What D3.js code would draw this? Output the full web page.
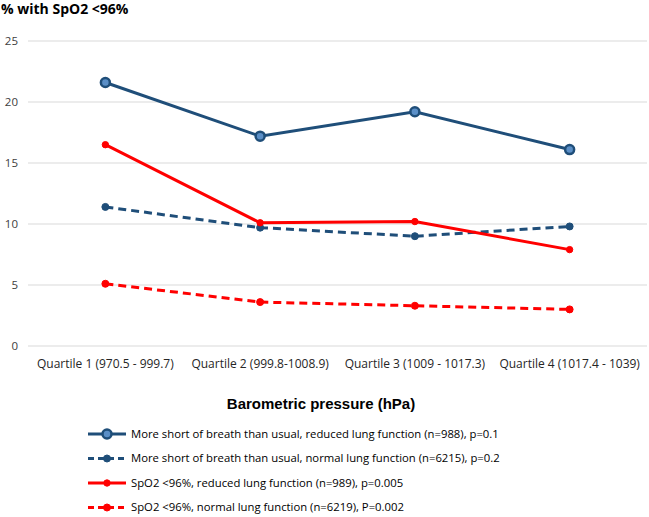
<!DOCTYPE html>
<html><head><meta charset="utf-8">
<script src="https://cdn.jsdelivr.net/npm/d3@7"></script>
<style>body{margin:0;background:#fff;} svg{display:block;}</style>
</head><body>
<svg id="c" width="649" height="517"></svg>
<script>
const categories = ["Quartile 1 (970.5 - 999.7)", "Quartile 2 (999.8-1008.9)", "Quartile 3 (1009 - 1017.3)", "Quartile 4 (1017.4 - 1039)"];
const sobReduced = [21.6, 17.2, 19.2, 16.1];
const sobNormal = [11.4, 9.7, 9.0, 9.8];
const spo2Reduced = [16.5, 10.1, 10.2, 7.9];
const spo2Normal = [5.1, 3.6, 3.3, 3.0];
const yTicks = [0, 5, 10, 15, 20, 25];
const seriesNames = [
  "More short of breath than usual, reduced lung function (n=988), p=0.1",
  "More short of breath than usual, normal lung function (n=6215), p=0.2",
  "SpO2 <96%, reduced lung function (n=989), p=0.005",
  "SpO2 <96%, normal lung function (n=6219), P=0.002"
];
const series = [
  {name: seriesNames[0], values: sobReduced, color: "#1f4e79", dash: null, hollow: true, r: 4.5},
  {name: seriesNames[1], values: sobNormal, color: "#1f4e79", dash: "8,5", hollow: false, r: 3.5},
  {name: seriesNames[2], values: spo2Reduced, color: "#ff0000", dash: null, hollow: false, r: 3.2},
  {name: seriesNames[3], values: spo2Normal, color: "#ff0000", dash: "8,5", hollow: false, r: 3.5}
];

const svg = d3.select("#c");
const x = d3.scaleBand().domain(categories).range([28, 647]);
const y = d3.scaleLinear().domain([0, 25]).range([346, 41]);
const font = "'Open Sans', 'Liberation Sans', sans-serif";

// gridlines
svg.append("g").selectAll("line").data(yTicks).join("line")
  .attr("x1", 28).attr("x2", 647)
  .attr("y1", d => y(d)).attr("y2", d => y(d))
  .attr("stroke", "#d9d9d9").attr("stroke-width", 1);

// y axis labels
const yAxis = svg.append("g").attr("transform", "translate(18,0)")
  .call(d3.axisLeft(y).tickValues(yTicks).tickSize(0).tickPadding(0));
yAxis.select(".domain").remove();
yAxis.selectAll("text").attr("font-family", font).attr("font-size", 11.5).attr("fill", "#404040");

// x axis labels
const xAxis = svg.append("g").attr("transform", "translate(0,364)")
  .call(d3.axisBottom(x).tickSize(0).tickPadding(0));
xAxis.select(".domain").remove();
xAxis.selectAll("text").attr("font-family", font).attr("font-size", 12).attr("fill", "#262626").attr("dy", "0.35em");

// lines
const line = d3.line().x((d, i) => x(categories[i]) + x.bandwidth() / 2).y(d => y(d));
series.forEach(s => {
  svg.append("path").datum(s.values)
    .attr("d", line).attr("fill", "none")
    .attr("stroke", s.color).attr("stroke-width", 3)
    .attr("stroke-dasharray", s.dash);
  svg.append("g").selectAll("circle").data(s.values).join("circle")
    .attr("cx", (d, i) => x(categories[i]) + x.bandwidth() / 2)
    .attr("cy", d => y(d))
    .attr("r", s.r)
    .attr("fill", s.hollow ? "#5b8fc7" : s.color)
    .attr("stroke", s.color).attr("stroke-width", s.hollow ? 2.5 : 1);
});

// title
svg.append("text").attr("x", 1).attr("y", 14)
  .attr("font-family", font).attr("font-weight", "bold").attr("font-size", 14)
  .attr("fill", "#000").text("% with SpO2 <96%");

// axis title
svg.append("text").attr("x", 321).attr("y", 409).attr("text-anchor", "middle")
  .attr("font-family", "'Liberation Sans', Arial, sans-serif").attr("font-weight", "bold").attr("font-size", 15)
  .attr("fill", "#000").text("Barometric pressure  (hPa)");

// legend
const leg = svg.append("g");
series.forEach((s, i) => {
  const ly = 434 + i * 24.5;
  leg.append("line").attr("x1", 88).attr("x2", 126).attr("y1", ly).attr("y2", ly)
    .attr("stroke", s.color).attr("stroke-width", 3).attr("stroke-dasharray", s.dash ? "6,4" : null);
  leg.append("circle").attr("cx", 107).attr("cy", ly).attr("r", s.r)
    .attr("fill", s.hollow ? "#5b8fc7" : s.color)
    .attr("stroke", s.color).attr("stroke-width", s.hollow ? 2.5 : 1);
  leg.append("text").attr("x", 131).attr("y", ly).attr("dy", "0.35em")
    .attr("font-family", font).attr("font-size", 11.3).attr("fill", "#000").text(s.name);
});
</script>
</body></html>
